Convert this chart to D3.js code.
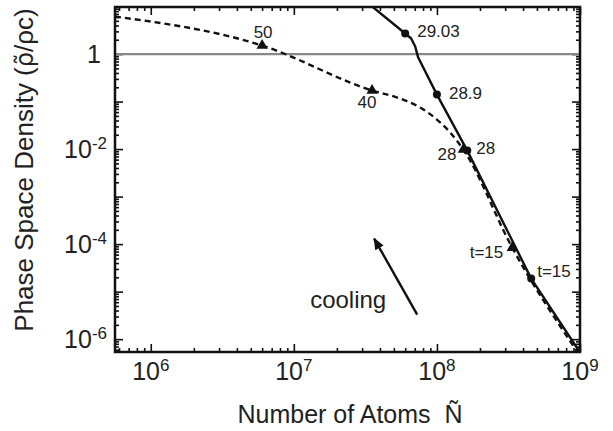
<!DOCTYPE html>
<html>
<head>
<meta charset="utf-8">
<script src="https://cdn.jsdelivr.net/npm/d3@7"></script>
<style>
  html, body { margin: 0; padding: 0; background: #fff; }
  svg { display: block; font-family: "Liberation Sans", Arial, Helvetica, sans-serif; }
</style>
</head>
<body>
<svg id="chart" width="613" height="431"></svg>
<script>
// ---------- data ----------
// solid curve
const solidN   = [2.90e7, 6.0e7, 6.61e7, 7.05e7, 7.40e7, 1.0e8, 1.63e8, 4.56e8, 9.9e8];
const solidPSD = [16.2, 2.70, 2.12, 1.44, 0.843, 0.140, 0.00929, 1.88e-5, 5.5e-7];
// solid curve markers (filled circles)
const solidMarkN     = [6.0e7, 1.0e8, 1.63e8, 4.56e8];
const solidMarkPSD   = [2.70, 0.140, 0.00929, 1.88e-5];
const solidMarkLabel = ["29.03", "28.9", "28", "t=15"];
// dashed curve
const dashN   = [5.62e5, 6.0e6, 3.52e7, 5.53e7, 7.64e7, 1.0e8, 1.24e8, 1.53e8, 3.36e8, 9.55e8];
const dashPSD = [6.15, 1.51, 0.171, 0.1156, 0.0748, 0.0418, 0.0222, 0.00975, 8.43e-5, 5.5e-7];
// dashed curve markers (filled triangles)
const dashMarkN     = [6.0e6, 3.52e7, 1.53e8, 3.36e8];
const dashMarkPSD   = [1.51, 0.171, 0.00975, 8.43e-5];
const dashMarkLabel = ["50", "40", "28", "t=15"];
// reference line
const refLinePSD = [1];
// axis ticks
const xTickExp = [6, 7, 8, 9];
const yTickExp = [0, -2, -4, -6];
// annotation arrow (tail -> head) and text
const arrowN   = [7.28e7, 3.64e7];
const arrowPSD = [3.28e-6, 1.31e-4];
const coolingText = "cooling";
const coolingN = [1.30e7];
const coolingPSD = [4.6e-6];
const xTitle = "Number of Atoms\u00a0\u00a0\u00d1";
const yTitleParts = ["Phase Space Density (", "\u03c1\u0303", "/\u03c1c)"];

// ---------- layout ----------
const svg = d3.select("#chart");
const L = 115, R = 580, T = 7, B = 352;
const x = d3.scaleLog().domain([Math.pow(10, 5.75), 1e9]).range([L, R]);
const y = d3.scaleLog().domain([Math.pow(10, -6.27), Math.pow(10, 0.99)]).range([B, T]);

svg.append("defs").append("clipPath").attr("id", "clip")
  .append("rect").attr("x", L).attr("y", T).attr("width", R - L).attr("height", B - T);

// ticks
function decadesIn(dom) {
  const lo = Math.floor(Math.log10(dom[0])), hi = Math.ceil(Math.log10(dom[1]));
  const maj = [], min = [];
  for (let e = lo; e <= hi; e++) {
    const v = Math.pow(10, e);
    if (v >= dom[0] * 0.999 && v <= dom[1] * 1.001) maj.push(v);
    for (let k = 2; k <= 9; k++) {
      const m = k * v;
      if (m >= dom[0] && m <= dom[1]) min.push(m);
    }
  }
  return { maj, min };
}
const xt = decadesIn(x.domain());
const yt = decadesIn(y.domain());

function styleAxis(g) {
  g.select(".domain").remove();
  g.selectAll("text").remove();
  g.selectAll("line").attr("stroke", "#111").attr("stroke-width", 1.6);
}
[[d3.axisBottom, B], [d3.axisTop, T]].forEach(([fn, pos]) => {
  svg.append("g").attr("transform", `translate(0,${pos})`)
    .call(fn(x).tickValues(xt.maj).tickSize(-8).tickFormat(() => "")).call(styleAxis);
  svg.append("g").attr("transform", `translate(0,${pos})`)
    .call(fn(x).tickValues(xt.min).tickSize(-4).tickFormat(() => "")).call(styleAxis);
});
[[d3.axisLeft, L], [d3.axisRight, R]].forEach(([fn, pos]) => {
  svg.append("g").attr("transform", `translate(${pos},0)`)
    .call(fn(y).tickValues(yt.maj).tickSize(-8).tickFormat(() => "")).call(styleAxis);
  svg.append("g").attr("transform", `translate(${pos},0)`)
    .call(fn(y).tickValues(yt.min).tickSize(-4).tickFormat(() => "")).call(styleAxis);
});

// reference line at 1
svg.append("g").selectAll("line").data(refLinePSD).join("line")
  .attr("x1", L).attr("x2", R).attr("y1", d => y(d)).attr("y2", d => y(d))
  .attr("stroke", "#888").attr("stroke-width", 2.2);

// curves
const plot = svg.append("g").attr("clip-path", "url(#clip)");
plot.append("path")
  .datum(dashN.map((n, i) => [n, dashPSD[i]]))
  .attr("d", d3.line().x(d => x(d[0])).y(d => y(d[1])).curve(d3.curveMonotoneX))
  .attr("fill", "none").attr("stroke", "#111").attr("stroke-width", 2.4)
  .attr("stroke-dasharray", "6,4");
plot.append("path")
  .datum(solidN.map((n, i) => [n, solidPSD[i]]))
  .attr("d", d3.line().x(d => x(d[0])).y(d => y(d[1])))
  .attr("fill", "none").attr("stroke", "#111").attr("stroke-width", 2.4)
  .attr("stroke-linejoin", "round");

// markers
svg.append("g").selectAll("circle")
  .data(solidMarkN.map((n, i) => [n, solidMarkPSD[i]])).join("circle")
  .attr("cx", d => x(d[0])).attr("cy", d => y(d[1])).attr("r", 4).attr("fill", "#111");
const tri = d3.symbol().type(d3.symbolTriangle).size(55);
svg.append("g").selectAll("path")
  .data(dashMarkN.map((n, i) => [n, dashMarkPSD[i]])).join("path")
  .attr("d", tri).attr("transform", d => `translate(${x(d[0])},${y(d[1])})`).attr("fill", "#111");

// marker labels
const annFont = 17;
const solidOff = [[12, 3, "start"], [12, 4, "start"], [9, 3, "start"], [6, -2, "start"]];
const dashOff  = [[1, -8, "middle"], [-5, 18, "middle"], [-7, 10, "end"], [-9, 10, "end"]];
svg.append("g").selectAll("text").data(solidMarkLabel).join("text")
  .attr("x", (d, i) => x(solidMarkN[i]) + solidOff[i][0])
  .attr("y", (d, i) => y(solidMarkPSD[i]) + solidOff[i][1])
  .attr("text-anchor", (d, i) => solidOff[i][2])
  .attr("font-size", annFont).attr("fill", "#222").text(d => d);
svg.append("g").selectAll("text").data(dashMarkLabel).join("text")
  .attr("x", (d, i) => x(dashMarkN[i]) + dashOff[i][0])
  .attr("y", (d, i) => y(dashMarkPSD[i]) + dashOff[i][1])
  .attr("text-anchor", (d, i) => dashOff[i][2])
  .attr("font-size", annFont).attr("fill", "#222").text(d => d);

// arrow
svg.append("defs").append("marker").attr("id", "ah")
  .attr("viewBox", "0 0 10 10").attr("refX", 9).attr("refY", 5)
  .attr("markerWidth", 5).attr("markerHeight", 5).attr("orient", "auto")
  .append("path").attr("d", "M0,1 L10,5 L0,9 z").attr("fill", "#111");
svg.append("line")
  .attr("x1", x(arrowN[0])).attr("y1", y(arrowPSD[0]))
  .attr("x2", x(arrowN[1])).attr("y2", y(arrowPSD[1]))
  .attr("stroke", "#111").attr("stroke-width", 2.4).attr("marker-end", "url(#ah)");
svg.append("text").attr("x", x(coolingN[0])).attr("y", y(coolingPSD[0]))
  .attr("font-size", 24).attr("fill", "#222").text(coolingText);

// frame
svg.append("rect").attr("x", L).attr("y", T).attr("width", R - L).attr("height", B - T)
  .attr("fill", "none").attr("stroke", "#111").attr("stroke-width", 2.5);

// tick labels
const tickFont = 25, supFont = 17;
svg.append("g").selectAll("text").data(xTickExp).join("text")
  .attr("x", d => x(Math.pow(10, d))).attr("y", 380)
  .attr("text-anchor", "middle").attr("font-size", tickFont).attr("fill", "#222")
  .each(function(d) {
    const t = d3.select(this);
    t.append("tspan").text("10");
    t.append("tspan").attr("font-size", supFont).attr("dy", -9).text(d);
  });
svg.append("g").selectAll("text").data(yTickExp).join("text")
  .attr("x", d => d === 0 ? 101 : 107).attr("y", d => y(Math.pow(10, d)) + 9)
  .attr("text-anchor", "end").attr("font-size", tickFont).attr("fill", "#222")
  .each(function(d) {
    const t = d3.select(this);
    if (d === 0) { t.text("1"); return; }
    t.append("tspan").text("10");
    t.append("tspan").attr("font-size", supFont).attr("dy", -9).text(d);
  });

// axis titles
svg.append("text").attr("x", 350).attr("y", 423).attr("text-anchor", "middle")
  .attr("font-size", 25).attr("fill", "#222").text(xTitle);
const yt2 = svg.append("text").attr("transform", "translate(33,170) rotate(-90)")
  .attr("text-anchor", "middle").attr("font-size", 26).attr("fill", "#222");
yt2.append("tspan").text(yTitleParts[0]);
yt2.append("tspan").attr("font-family", "'DejaVu Sans', sans-serif").attr("font-size", 24).text(yTitleParts[1]);
yt2.append("tspan").text(yTitleParts[2]);
</script>
</body>
</html>
